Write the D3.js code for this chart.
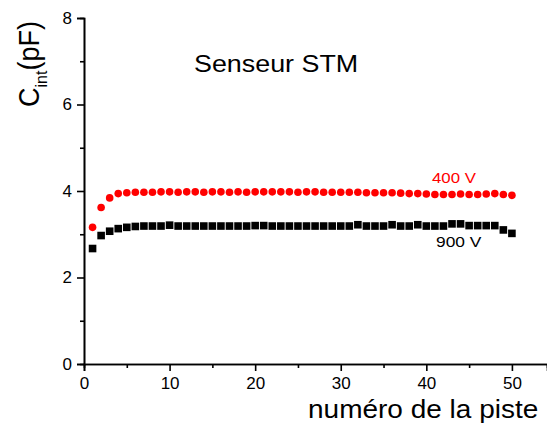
<!DOCTYPE html>
<html>
<head>
<meta charset="utf-8">
<script src="https://cdn.jsdelivr.net/npm/d3@7/dist/d3.min.js"></script>
<style>
  html, body { margin: 0; padding: 0; background: #fff; }
  svg { display: block; font-family: "Liberation Sans", Arial, sans-serif; }
</style>
</head>
<body>
<svg id="chart" width="547" height="423"></svg>
<script>
// ---- data ----
const pistes = d3.range(1, 51);
const c400V = [3.16, 3.62, 3.84, 3.94, 3.96, 3.97, 3.97, 3.97, 3.98, 3.98,
               3.97, 3.98, 3.98, 3.97, 3.98, 3.98, 3.97, 3.98, 3.97, 3.98,
               3.98, 3.98, 3.98, 3.98, 3.97, 3.98, 3.98, 3.97, 3.97, 3.97,
               3.97, 3.97, 3.96, 3.96, 3.96, 3.96, 3.95, 3.94, 3.94, 3.93,
               3.92, 3.92, 3.92, 3.93, 3.92, 3.92, 3.93, 3.94, 3.92, 3.90];
const c900V = [2.67, 2.97, 3.07, 3.13, 3.16, 3.18, 3.19, 3.19, 3.19, 3.21,
               3.19, 3.19, 3.19, 3.19, 3.19, 3.19, 3.19, 3.19, 3.19, 3.20,
               3.20, 3.19, 3.19, 3.19, 3.19, 3.19, 3.19, 3.19, 3.19, 3.19,
               3.19, 3.22, 3.19, 3.19, 3.19, 3.22, 3.19, 3.19, 3.22, 3.19,
               3.19, 3.19, 3.24, 3.24, 3.20, 3.20, 3.20, 3.20, 3.10, 3.02];
const xMajorTicks = [0, 10, 20, 30, 40, 50];
const xMinorTicks = [5, 15, 25, 35, 45];
const yMajorTicks = [0, 2, 4, 6, 8];
const yMinorTicks = [1, 3, 5, 7];
const titleText = "Senseur STM";
const xTitle = "numéro de la piste";
const seriesLabels = ["400 V", "900 V"];

// ---- layout ----
const svg = d3.select("#chart");
const x = d3.scaleLinear().domain([0, 54.1]).range([84, 547]);
const y = d3.scaleLinear().domain([0, 8]).range([364, 18]);
const stretch = 1.12;

function styleAxis(g) {
  g.select(".domain").attr("stroke", "#000").attr("stroke-width", 1.6);
  g.selectAll(".tick line").attr("stroke", "#000").attr("stroke-width", 1.6);
  g.selectAll(".tick text").attr("fill", "#000").attr("font-size", 17)
    .attr("font-family", "'Liberation Sans', Arial, sans-serif");
}

// minor ticks
svg.append("g").attr("transform", "translate(0,364)")
  .call(d3.axisBottom(x).tickValues(xMinorTicks).tickSize(4).tickFormat(""))
  .call(styleAxis);
svg.append("g").attr("transform", "translate(84,0)")
  .call(d3.axisLeft(y).tickValues(yMinorTicks).tickSize(4).tickFormat(""))
  .call(styleAxis);
// major ticks
svg.append("g").attr("transform", "translate(0,364)")
  .call(d3.axisBottom(x).tickValues(xMajorTicks).tickSize(7).tickPadding(6).tickFormat(d3.format("d")))
  .call(styleAxis);
svg.append("g").attr("transform", "translate(84,0)")
  .call(d3.axisLeft(y).tickValues(yMajorTicks).tickSize(7).tickPadding(5).tickFormat(d3.format("d")))
  .call(styleAxis);

// data
svg.append("g").selectAll("circle").data(pistes).join("circle")
  .attr("cx", (d) => x(d))
  .attr("cy", (d, i) => y(c400V[i]))
  .attr("r", 3.8)
  .attr("fill", "#ff0000");

const sq = 7.6;
svg.append("g").selectAll("rect").data(pistes).join("rect")
  .attr("x", (d) => x(d) - sq / 2)
  .attr("y", (d, i) => y(c900V[i]) - sq / 2)
  .attr("width", sq).attr("height", sq)
  .attr("fill", "#000");

// texts
function sText(str, px, py, size, color, anchor) {
  return svg.append("text")
    .attr("transform", `translate(${px},${py}) scale(${stretch},1)`)
    .attr("font-size", size)
    .attr("fill", color)
    .attr("text-anchor", anchor || "start")
    .text(str);
}
sText(titleText, 194, 72, 24, "#000");
sText(xTitle, 308, 418, 25, "#000");
sText(seriesLabels[0], 432, 183, 15, "#ff0000");
sText(seriesLabels[1], 436, 247, 15.5, "#000");

// y title C_int(pF)
const yt = svg.append("text")
  .attr("transform", "translate(39,107) scale(1.08,1) rotate(-90)")
  .attr("font-size", 27)
  .attr("fill", "#000");
yt.append("tspan").text("C");
yt.append("tspan").attr("font-size", 16).attr("dy", 7).text("int");
yt.append("tspan").attr("dy", -7).text("(pF)");
</script>
</body>
</html>
